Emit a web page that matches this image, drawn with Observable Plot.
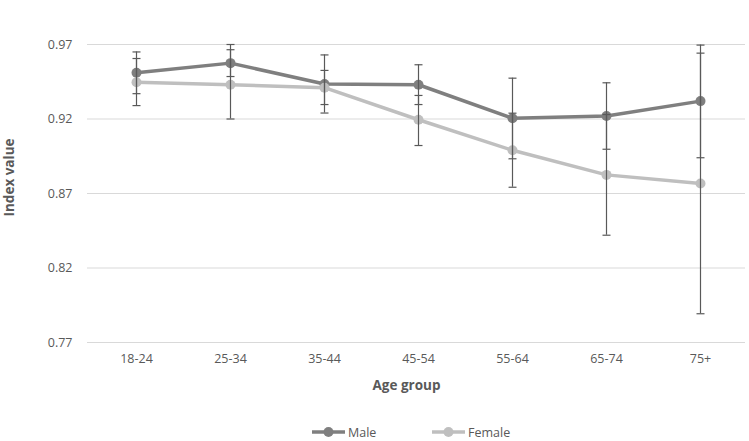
<!DOCTYPE html>
<html>
<head>
<meta charset="utf-8">
<script src="https://cdn.jsdelivr.net/npm/d3@7"></script>
<script src="https://cdn.jsdelivr.net/npm/@observablehq/plot@0.6"></script>
<style>
  html, body { margin: 0; padding: 0; background: #fff; }
  body { width: 749px; height: 441px; overflow: hidden; font-family: "Open Sans", sans-serif; }
  #legend { position: absolute; top: 423px; left: 0; width: 749px; height: 18px; }
  #legend .item { position: absolute; top: 0; height: 18px; display: flex; align-items: center; font-size: 12.5px; color: #595959; }
  #legend svg { margin-right: 3px; }
</style>
</head>
<body>
<div id="chart"></div>
<div id="legend"></div>
<script>
const ageGroups = ["18-24", "25-34", "35-44", "45-54", "55-64", "65-74", "75+"];
const seriesNames = ["Male", "Female"];
const maleValues = [0.951, 0.9575, 0.9435, 0.943, 0.9205, 0.922, 0.932];
const maleLow    = [0.937, 0.9485, 0.924, 0.9297, 0.8933, 0.8997, 0.894];
const maleHigh   = [0.965, 0.9665, 0.963, 0.9564, 0.9474, 0.9443, 0.9696];
const femaleValues = [0.9447, 0.943, 0.941, 0.9195, 0.899, 0.8825, 0.8767];
const femaleLow    = [0.929, 0.920, 0.9297, 0.9022, 0.8742, 0.842, 0.7893];
const femaleHigh   = [0.9606, 0.970, 0.9526, 0.9358, 0.9239, 0.923, 0.9642];
const yTicks = [0.77, 0.82, 0.87, 0.92, 0.97];
const seriesColors = ["#7f7f7f", "#bfbfbf"];

const rows = [];
ageGroups.forEach((g, i) => {
  rows.push({series: "Male", group: g, value: maleValues[i], low: maleLow[i], high: maleHigh[i]});
});
ageGroups.forEach((g, i) => {
  rows.push({series: "Female", group: g, value: femaleValues[i], low: femaleLow[i], high: femaleHigh[i]});
});
const caps = rows.flatMap(d => [{group: d.group, y: d.low}, {group: d.group, y: d.high}]);

const capSymbol = {
  draw(context, size) {
    context.moveTo(-4, 0);
    context.lineTo(4, 0);
  }
};

const fontFamily = "'Open Sans', sans-serif";

const plot = Plot.plot({
  width: 749,
  height: 423,
  marginTop: 44,
  marginBottom: 81,
  marginLeft: 86,
  marginRight: 0,
  style: {fontFamily, fontSize: "12.5px", color: "#595959", background: "#fff"},
  x: {type: "point", domain: ageGroups, padding: 0.5, label: null},
  y: {domain: [0.77, 0.97], ticks: yTicks, label: null},
  color: {domain: seriesNames, range: seriesColors},
  marks: [
    Plot.ruleY(yTicks, {y: d => d, stroke: "#d9d9d9", strokeWidth: 1, insetRight: 4, insetLeft: 1}),
    Plot.axisY({ticks: yTicks, tickSize: 0, tickPadding: 14, tickFormat: d3.format(".2f"), label: null, fill: "#595959", fontSize: 12.5}),
    Plot.axisX({tickSize: 0, tickPadding: 12, label: null, fill: "#595959", fontSize: 12.5}),
    Plot.line(rows, {x: "group", y: "value", z: "series", stroke: "series", strokeWidth: 3.5, strokeLinejoin: "round"}),
    Plot.dot(rows, {x: "group", y: "value", fill: "series", r: 5}),
    Plot.ruleX(rows, {x: "group", y1: "low", y2: "high", stroke: "#595959", strokeWidth: 1.2}),
    Plot.dot(caps, {x: "group", y: "y", symbol: capSymbol, stroke: "#595959", strokeWidth: 1.2, fill: "none"}),
    Plot.text(["Index value"], {frameAnchor: "left", textAnchor: "middle", rotate: -90, dx: -77, dy: -16, fontWeight: "bold", fontSize: 13.5, fill: "#595959"}),
    Plot.text(["Age group"], {frameAnchor: "bottom", dy: 47, dx: -11.5, fontWeight: "bold", fontSize: 13.5, fill: "#595959"})
  ]
});
document.getElementById("chart").appendChild(plot);

// Legend
const legend = document.getElementById("legend");
const legendLefts = [312, 432];
seriesNames.forEach((name, i) => {
  const item = document.createElement("div");
  item.className = "item";
  item.style.left = legendLefts[i] + "px";
  const color = seriesColors[i];
  item.innerHTML = `<svg width="33" height="12"><line x1="0" y1="6" x2="33" y2="6" stroke="${color}" stroke-width="3.5"/><circle cx="16.5" cy="6" r="5" fill="${color}"/></svg><span>${name}</span>`;
  legend.appendChild(item);
});
</script>
</body>
</html>
